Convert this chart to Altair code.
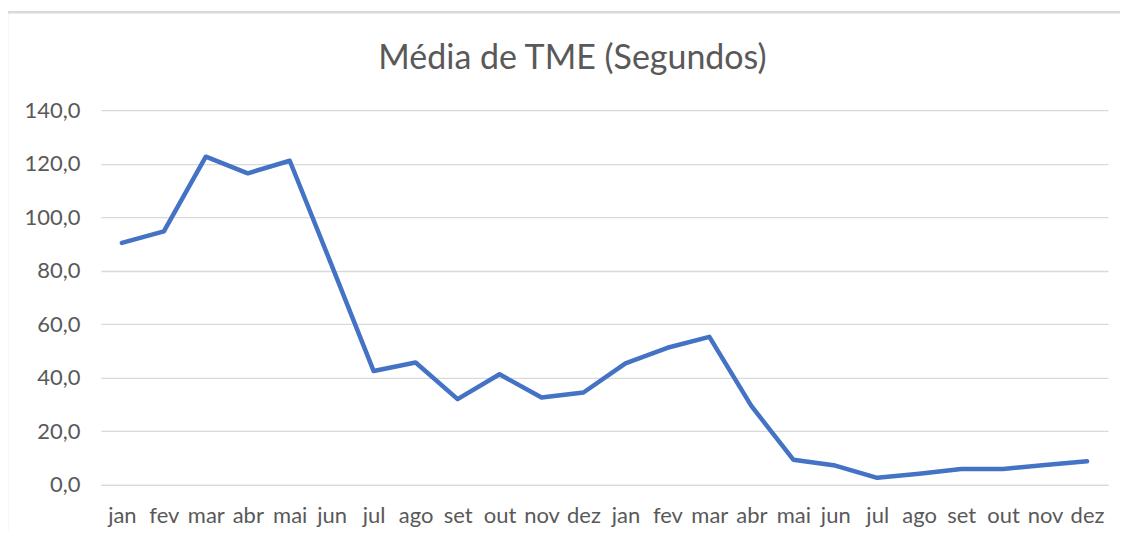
import altair as alt
import pandas as pd

months = ["jan", "fev", "mar", "abr", "mai", "jun", "jul", "ago", "set", "out", "nov", "dez",
          "jan", "fev", "mar", "abr", "mai", "jun", "jul", "ago", "set", "out", "nov", "dez"]
values = [90.4, 94.7, 122.6, 116.4, 121.1, 82.0, 42.5, 45.7, 32.0, 41.3, 32.6, 34.5,
          45.4, 51.2, 55.3, 29.5, 9.4, 7.2, 2.6, 4.1, 5.9, 5.9, 7.4, 8.8]
y_ticks = [0, 20, 40, 60, 80, 100, 120, 140]

keys = [f"{m}_{i}" for i, m in enumerate(months)]
df = pd.DataFrame({"key": keys, "valor": values})

grey = "#595959"
font = "Lato"
border = "#D9D9D9"

line = alt.Chart(df).mark_line(
    color="#4472C4", strokeWidth=4.5, strokeCap="round", strokeJoin="round"
).encode(
    x=alt.X("key:N", sort=keys, title=None,
            scale=alt.Scale(type="point", padding=0.5),
            axis=alt.Axis(labelExpr="split(datum.label, '_')[0]", labelAngle=0,
                          ticks=False, domainColor="#D9D9D9", domainWidth=1.3,
                          labelPadding=21, labelFontSize=22, labelColor=grey,
                          labelFont=font, grid=False)),
    y=alt.Y("valor:Q", title=None,
            scale=alt.Scale(domain=[0, 140], nice=False),
            axis=alt.Axis(values=y_ticks,
                          labelExpr="replace(format(datum.value, '.1f'), '.', ',')",
                          ticks=False, domain=False, gridColor="#D9D9D9", gridWidth=1.3,
                          labelPadding=21, labelFontSize=22, labelColor=grey,
                          labelFont=font)),
)

# chart-area frame (top and left edges, as in the reference)
frame_df = pd.DataFrame({"f": [0]})
frame_top = alt.Chart(frame_df).mark_rule(color=border, strokeWidth=2.5, clip=False).encode(
    x=alt.value(-94), x2=alt.value(1030), y=alt.value(-98))
frame_left = alt.Chart(frame_df).mark_rule(color=border, strokeWidth=2.5, clip=False).encode(
    x=alt.value(-94), y=alt.value(-98), y2=alt.value(440))

chart = alt.layer(frame_top, frame_left, line).properties(
    width=1008, height=375,
    title=alt.TitleParams("Média de TME (Segundos)", fontSize=34, font=font,
                          color=grey, fontWeight="normal", anchor="middle",
                          dx=-32, offset=-65),
    autosize=alt.AutoSizeParams(type="none"),
    padding={"left": 93, "top": 102, "right": 12, "bottom": 45},
).configure_view(strokeWidth=0)

chart.save("out.html", embed_options={"renderer": "svg", "actions": False})
